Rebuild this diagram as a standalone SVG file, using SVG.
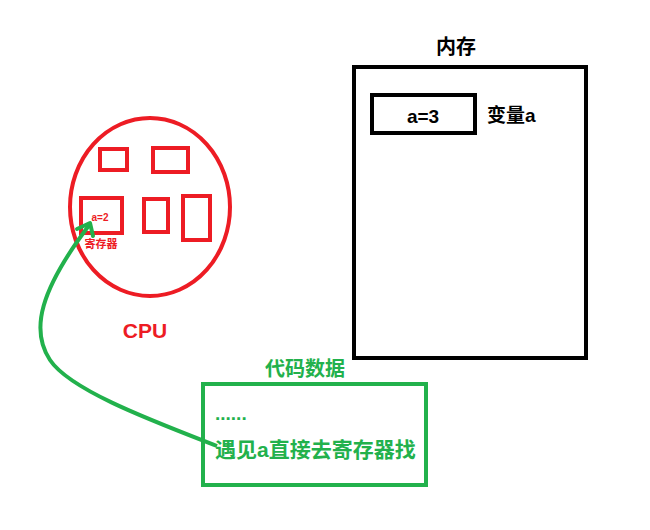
<svg xmlns="http://www.w3.org/2000/svg" width="650" height="530" viewBox="0 0 650 530">
<style>
.t{font-family:"Liberation Sans","Noto Sans CJK SC",sans-serif;font-weight:bold}
.red{fill:none;stroke:#ed1c24;stroke-width:4}
.blk{fill:none;stroke:#000;stroke-width:4}
.grn{fill:none;stroke:#22b14c;stroke-width:4}
</style>
<rect width="650" height="530" fill="#fff"/>
<g id="cpu">
<ellipse class="red" cx="150" cy="207" rx="80" ry="89"/>
<rect class="red" x="100" y="149" width="27" height="21"/>
<rect class="red" x="153" y="148" width="35" height="24"/>
<rect class="red" x="81" y="198" width="41" height="35"/>
<rect class="red" x="144" y="199" width="24" height="33"/>
<rect class="red" x="183" y="196" width="27" height="44"/>
<text class="t" x="100" y="221" font-size="10" fill="#ed1c24" text-anchor="middle">a=2</text>
<text class="t" x="101" y="248" font-size="11" fill="#ed1c24" text-anchor="middle">寄存器</text>
<text class="t" x="145" y="338" font-size="21" fill="#ed1c24" text-anchor="middle">CPU</text>
</g>
<g id="memory">
<rect class="blk" x="354" y="67" width="232" height="291"/>
<text class="t" x="456" y="54" font-size="20" fill="#000" text-anchor="middle">内存</text>
<rect class="blk" x="372" y="95" width="103" height="38"/>
<text class="t" x="423" y="123" font-size="19" fill="#000" text-anchor="middle">a=3</text>
<text class="t" x="487" y="122" font-size="19" fill="#000">变量a</text>
</g>
<g id="code">
<rect class="grn" x="203" y="384" width="223" height="101"/>
<text class="t" x="305" y="376" font-size="20" fill="#22b14c" text-anchor="middle">代码数据</text>
<text class="t" x="215" y="420" font-size="19" fill="#22b14c">......</text>
<text class="t" x="215" y="457" font-size="21" fill="#22b14c">遇见a直接去寄存器找</text>
</g>
<g id="connectors">
<path class="grn" d="M217,446 C150,420 70,390 50,360 C30,330 40,290 90,224"/>
<path class="grn" d="M77,229 L90,223 L93,236" stroke-linecap="round" stroke-linejoin="round"/>
</g>
</svg>
